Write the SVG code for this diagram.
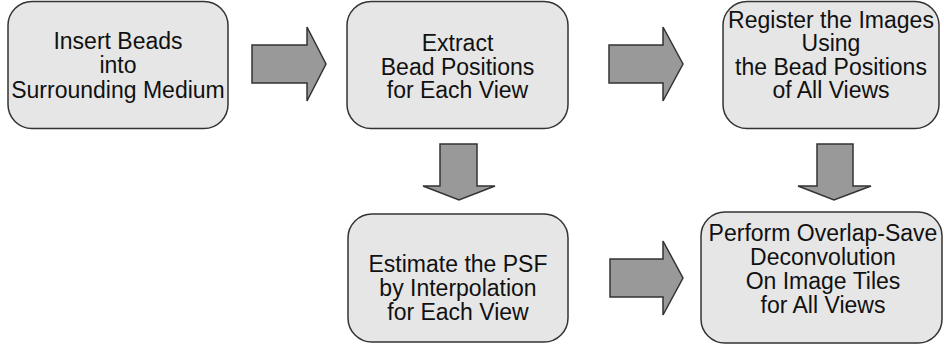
<svg xmlns="http://www.w3.org/2000/svg" width="944" height="349" viewBox="0 0 944 349">
<style>
.box{fill:#e6e6e6;stroke:#333333;stroke-width:1.5}
.arr{fill:#999999;stroke:#333333;stroke-width:1.5;stroke-linejoin:miter}
text{font-family:"Liberation Sans",Arial,sans-serif;font-size:23px;fill:#111111;text-anchor:middle}
</style>
<rect width="944" height="349" fill="#ffffff"/>
<g id="connectors">
<polygon class="arr" points="252,45 307,45 307,27 326,64 307,101 307,83 252,83"/>
<polygon class="arr" points="609,45 663,45 663,27 683,64 663,101 663,83 609,83"/>
<polygon class="arr" points="610,259 663,259 663,241 683,278 663,315 663,297 610,297"/>
<polygon class="arr" points="440,144 477,144 477,186 495,186 459,200 423,186 440,186"/>
<polygon class="arr" points="817,144 853,144 853,186 871,186 834,200 798,186 817,186"/>
</g>
<g id="node1">
<rect class="box" x="8" y="1.5" width="220" height="127" rx="24"/>
<text x="118" y="49">Insert Beads</text>
<text x="118" y="73">into</text>
<text x="118" y="98">Surrounding Medium</text>
</g>
<g id="node2">
<rect class="box" x="347" y="1.5" width="221" height="127" rx="24"/>
<text x="457.5" y="51">Extract</text>
<text x="457.5" y="75">Bead Positions</text>
<text x="457.5" y="98">for Each View</text>
</g>
<g id="node3">
<rect class="box" x="723" y="1.5" width="216" height="127" rx="24"/>
<text x="831" y="28">Register the Images</text>
<text x="831" y="51">Using</text>
<text x="831" y="75">the Bead Positions</text>
<text x="831" y="98">of All Views</text>
</g>
<g id="node4">
<rect class="box" x="348" y="214" width="220" height="128" rx="24"/>
<text x="458" y="272">Estimate the PSF</text>
<text x="458" y="296">by Interpolation</text>
<text x="458" y="320">for Each View</text>
</g>
<g id="node5">
<rect class="box" x="701" y="212" width="241" height="131" rx="24"/>
<text x="823" y="241">Perform Overlap-Save</text>
<text x="823" y="265">Deconvolution</text>
<text x="823" y="289">On Image Tiles</text>
<text x="823" y="313">for All Views</text>
</g>
</svg>
